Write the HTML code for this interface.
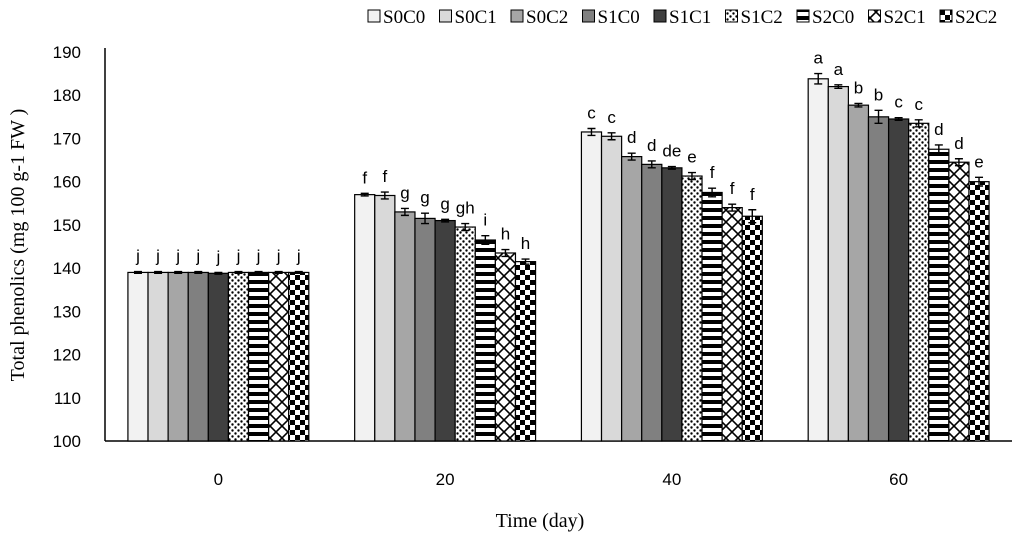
<!DOCTYPE html>
<html><head><meta charset="utf-8"><style>
body{margin:0;background:#fff;}
svg{display:block;font-family:"Liberation Serif",serif;}
</style></head><body>
<svg id="chart" width="1021" height="545" viewBox="0 0 1021 545" xmlns="http://www.w3.org/2000/svg">
<defs>
<pattern id="p-dots" width="6" height="6" patternUnits="userSpaceOnUse"><rect width="6" height="6" fill="#fff"/><circle cx="1.5" cy="1.5" r="1.2" fill="#000"/><circle cx="4.5" cy="4.5" r="1.2" fill="#000"/></pattern>
<pattern id="p-hstripe" width="8" height="8" patternUnits="userSpaceOnUse"><rect width="8" height="8" fill="#fff"/><rect y="0" width="8" height="4" fill="#000"/></pattern>
<pattern id="p-cross" width="12" height="12" patternUnits="userSpaceOnUse"><rect width="12" height="12" fill="#fff"/><path d="M0 0L12 12M12 0L0 12" stroke="#000" stroke-width="1.6"/></pattern>
<pattern id="p-check" width="10" height="10" patternUnits="userSpaceOnUse"><rect width="10" height="10" fill="#fff"/><rect width="5" height="5" fill="#000"/><rect x="5" y="5" width="5" height="5" fill="#000"/></pattern>
</defs>
<g id="axes"></g>
<g id="bars"></g>
<g id="legend"></g>
<text transform="translate(24,245) rotate(-90)" text-anchor="middle" font-size="20">Total phenolics (mg 100 g-1 FW )</text>
<text x="540" y="527" text-anchor="middle" font-size="20">Time (day)</text>
</svg>
<script>
const categories = ["0","20","40","60"];
const series = ["S0C0","S0C1","S0C2","S1C0","S1C1","S1C2","S2C0","S2C1","S2C2"];
const day0 = [139,139,139,139,138.8,139,139,139,139];
const day20 = [157,156.8,153,151.5,151,149.5,146.5,143.5,141.5];
const day40 = [171.5,170.5,165.8,164,163.2,161.3,157.5,154,152];
const day60 = [183.8,182,177.7,175,174.5,173.5,167.5,164.5,160];
const err0 = [0.2,0.2,0.2,0.2,0.2,0.2,0.2,0.2,0.2];
const err20 = [0.3,0.8,0.8,1.2,0.3,0.8,1,0.8,0.6];
const err40 = [0.8,0.8,0.8,0.8,0.3,0.8,1,0.8,1.5];
const err60 = [1.2,0.4,0.4,1.5,0.3,0.8,1,0.8,1];
const letters0 = ["j","j","j","j","j","j","j","j","j"];
const letters20 = ["f","f","g","g","g","gh","i","h","h"];
const letters40 = ["c","c","d","d","de","e","f","f","f"];
const letters60 = ["a","a","b","b","c","c","d","d","e"];
const yTicks = [100,110,120,130,140,150,160,170,180,190];
const fills = ["#f2f2f2","#d9d9d9","#a6a6a6","#808080","#404040","url(#p-dots)","url(#p-hstripe)","url(#p-cross)","url(#p-check)"];
const values = [day0,day20,day40,day60], errs=[err0,err20,err40,err60], letters=[letters0,letters20,letters40,letters60];
const NS="http://www.w3.org/2000/svg";
const X0=105,X1=1012,Y0=441,Y1=52,YMIN=100,YMAX=190;
const y=v=>Y0-(v-YMIN)/(YMAX-YMIN)*(Y0-Y1);
const catW=(X1-X0)/categories.length;
const barW=20.1;
const x=(c,s)=>X0+catW*c+catW/2-barW*series.length/2+s*barW;
function mk(tag,attrs,parent){const e=document.createElementNS(NS,tag);for(const k in attrs)e.setAttribute(k,attrs[k]);parent.appendChild(e);return e;}
const axes=document.getElementById('axes'),bars=document.getElementById('bars'),legend=document.getElementById('legend');
yTicks.forEach(t=>{const tx=mk('text',{x:81,y:y(t)+6,'text-anchor':'end','font-size':17,'font-family':'Liberation Sans, sans-serif'},axes);tx.textContent=t;

});
const ya=mk('line',{x1:X0,y1:Y1-4,x2:X0,y2:Y0,stroke:'#000','stroke-width':1.5},axes);


categories.forEach((c,i)=>{const tx=mk('text',{x:X0+catW*i+catW/2,y:Y0+44,'text-anchor':'middle','font-size':17,'font-family':'Liberation Sans, sans-serif'},axes);tx.textContent=c;

});
values.forEach((arr,c)=>{arr.forEach((v,s)=>{
 const bx=x(c,s);
 const r=mk('rect',{x:bx,y:y(v),width:barW,height:Y0-y(v),fill:fills[s],stroke:'#000','stroke-width':1.2},bars);
 
 
 const e=errs[c][s],cx=bx+barW/2;
 const eb=mk('path',{d:`M${cx} ${y(v+e)}V${y(v-e)}M${cx-4} ${y(v+e)}H${cx+4}M${cx-4} ${y(v-e)}H${cx+4}`,stroke:'#000','stroke-width':1.4,fill:'none'},bars);
 
 
 const lt=mk('text',{x:cx,y:y(v+e)-10,'text-anchor':'middle','font-size':17,'font-family':'Liberation Sans, sans-serif'},bars);lt.textContent=letters[c][s];
 
 
});});
const xa=mk('line',{x1:X0,y1:Y0,x2:X1,y2:Y0,stroke:'#000','stroke-width':1.5},axes);


series.forEach((s,i)=>{const lx=368+i*71.5;
 const g=mk('g',{},legend);
 
 
 mk('rect',{x:lx,y:10,width:12,height:12,fill:fills[i],stroke:'#000','stroke-width':1},g);
 const t=mk('text',{x:lx+15,y:23,'font-size':19},g);t.textContent=s;});
</script>
</body></html>
